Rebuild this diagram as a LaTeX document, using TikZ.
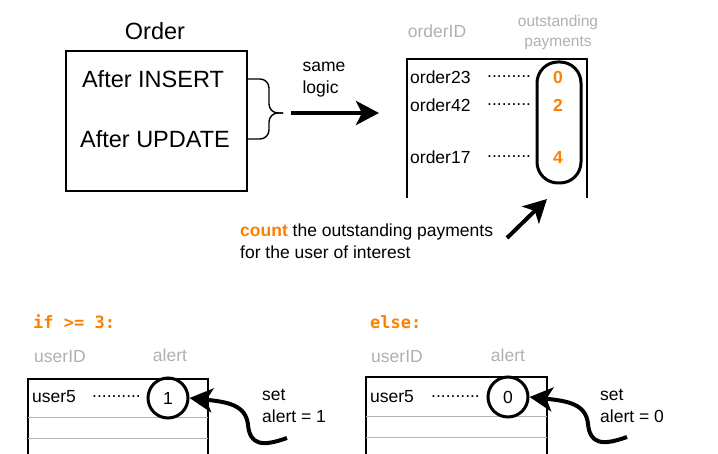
\documentclass[tikz,border=0pt]{standalone}
\usepackage{fontspec}
\setmainfont{Liberation Sans}
\newfontfamily\codefont{DejaVu Sans Mono}
\usepackage{xcolor}
\usetikzlibrary{arrows.meta, positioning}
\definecolor{hiorange}{HTML}{FF8000}
\definecolor{headgray}{HTML}{B0B0B0}
\definecolor{rulegray}{HTML}{B3B3B3}

\begin{document}
\begin{tikzpicture}[x=1pt, y=-1pt,
    big/.style={inner sep=0pt, font=\fontsize{23.5}{27}\selectfont},
    txt/.style={inner sep=0pt, font=\fontsize{17.5}{22}\selectfont},
    head/.style={txt, text=headgray},
    num/.style={inner sep=0pt, text=hiorange, font=\fontsize{17.5}{22}\selectfont\bfseries},
    code/.style={inner sep=0pt, text=hiorange, font=\fontsize{17}{21}\codefont\bfseries},
    fat/.style={line width=4pt, -{Stealth[length=23pt, width=24pt, inset=6pt]}},
    ring/.style={draw, circle, line width=3pt, minimum size=40pt, inner sep=0pt, font=\fontsize{17.5}{22}\selectfont},
    frame/.style={line width=1.4pt},
    row/.style={rulegray, line width=1pt},
]
\useasboundingbox (0,0) rectangle (718,454);

% trigger box
\node[draw, frame, minimum width=181pt, minimum height=140pt] (order) at (156.5,121) {};
\node[big] (ordertitle) at (155,31) {Order};
\node[big] (ins) at (153,79) {After INSERT};
\node[big] (upd) at (155,139) {After UPDATE};
\coordinate (bracetip) at (283,113);
\draw[frame, rounded corners=9pt] (order.east |- ins) -| (269,113) -- (bracetip);
\draw[frame, rounded corners=9pt] (order.east |- upd) -| (269,113) -- (bracetip);
\node[txt, align=left] (same) at (324,80) {same\\logic};
\coordinate (logicstart) at (291,113);
\coordinate (logicend) at (379,113);
\draw[fat] (logicstart) -- (logicend);

% orders table
\draw[frame] (407,198) -- (407,59) -- (587,59) -- (587,198);
\node[head] (orderid) at (437,31) {orderID};
\node[head, align=center, font=\fontsize{15.5}{20}\selectfont] (outstanding) at (558,32) {outstanding\\payments};
\node[txt, anchor=west] (o23) at (410,77) {order23};
\node[txt, anchor=west] (o42) at (410,105) {order42};
\node[txt, anchor=west] (o17) at (410,157) {order17};
\node[txt, anchor=west] (d23) at (487,77) {.........};
\node[txt, anchor=west] (d42) at (487,105) {.........};
\node[txt, anchor=west] (d17) at (487,157) {.........};
\node[num] (p23) at (558,77) {0};
\node[num] (p42) at (558,105) {2};
\node[num] (p17) at (558,157) {4};
\node[draw, line width=3pt, rounded corners=21pt, minimum width=44pt, minimum height=121pt] (pill) at (559,122.5) {};
\coordinate (countfrom) at (507,238);
\coordinate (counttip) at (547,199);
\draw[fat] (countfrom) -- (counttip);
\node[txt, align=left, anchor=west] (counttext) at (240,241.5) {\textcolor{hiorange}{\bfseries count} the outstanding payments\\for the user of interest};

% if branch
\node[code, anchor=west] (ifcase) at (33,322) {if >= 3:};
\node[head] (uid1) at (60,357) {userID};
\node[head] (al1) at (170,355) {alert};
\draw[frame] (28,455) -- (28,379) -- (208,379) -- (208,455);
\draw[row] (28,418) -- (208,418);
\draw[row] (28,438) -- (208,438);
\node[txt, anchor=west] (u1) at (32,397) {user5};
\node[txt, anchor=west] (ud1) at (92,397) {..........};
\node[ring] (flag1) at (168,398) {1};
\coordinate (setfrom1) at (287,438);
\draw[fat] (setfrom1) .. controls (262,447) and (250,445) .. (248,425) .. controls (246,405) and (228,402) .. (flag1.east);
\node[txt, align=left, anchor=west] (set1) at (262,406) {set\\alert = 1};

% else branch
\node[code, anchor=west] (elsecase) at (370,322) {else:};
\node[head] (uid2) at (397,357) {userID};
\node[head] (al2) at (508,355) {alert};
\draw[frame] (366,455) -- (366,377) -- (547,377) -- (547,455);
\draw[row] (366,417) -- (547,417);
\draw[row] (366,437) -- (547,437);
\node[txt, anchor=west] (u2) at (370,397) {user5};
\node[txt, anchor=west] (ud2) at (431,397) {..........};
\node[ring] (flag2) at (508,397) {0};
\coordinate (setfrom2) at (627,437);
\draw[fat] (setfrom2) .. controls (602,446) and (590,444) .. (588,424) .. controls (586,404) and (568,401) .. (flag2.east);
\node[txt, align=left, anchor=west] (set2) at (600,406) {set\\alert = 0};
\end{tikzpicture}
\end{document}
